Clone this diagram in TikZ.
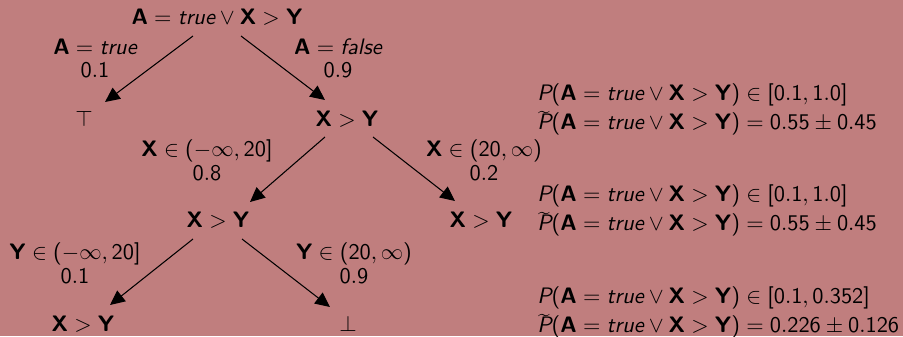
\RequirePackage{fix-cm}
\documentclass[tikz,border=0pt]{standalone}
\usetikzlibrary{arrows.meta,calc}
\DeclareSymbolFont{operators}{OT1}{cmss}{m}{n}
\SetSymbolFont{operators}{bold}{OT1}{cmss}{bx}{n}
\newcommand{\bv}[1]{\mbox{\sffamily\bfseries #1}}
\newcommand{\iv}[1]{\mbox{\sffamily\itshape #1}}
\newcommand{\tvP}{\iv{P}}
\newcommand{\tildeP}{\smash{\rlap{\raisebox{-1.8pt}{$\widetilde{\phantom{\tvP}}$}}\tvP}}
\newcommand{\phrase}{\bv{A} = \iv{true} \vee \bv{X} > \bv{Y}}
\definecolor{bg}{RGB}{192,126,126}
\begin{document}
\begin{tikzpicture}[x=0.476pt,y=-0.476pt,
  every node/.style={font=\sffamily\fontsize{10.65}{11.2}\selectfont, inner sep=0pt},
  lbl/.style={align=center},
  info/.style={align=left, anchor=west},
  arr/.style={line width=0.5pt, -{Triangle[length=7pt,width=6.5pt]}}]
\fill[bg] (0,0) rectangle (903,336);
\useasboundingbox (0,0) rectangle (903,336);
% tree nodes
\node (root) at (217,17) {$\phrase$};
\node (top) at (84,119) {$\top$};
\node (xy1) at (347,119) {$\bv{X} > \bv{Y}$};
\node (xy2) at (218,220) {$\bv{X} > \bv{Y}$};
\node (xy3) at (481,220) {$\bv{X} > \bv{Y}$};
\node (xy4) at (83,324) {$\bv{X} > \bv{Y}$};
\node (bot) at (348,324) {$\bot$};
% edge labels
\node[lbl] (l1) at (95,58) {$\bv{A} = \iv{true}$\\ $0.1$};
\node[lbl] (l2) at (338,58) {$\bv{A} = \iv{false}$\\ $0.9$};
\node[lbl] (l3) at (207,160) {$\bv{X} \in (-\infty, 20]$\\ $0.8$};
\node[lbl] (l4) at (484,160) {$\bv{X} \in (20, \infty)$\\ $0.2$};
\node[lbl] (l5) at (75,263) {$\bv{Y} \in (-\infty, 20]$\\ $0.1$};
\node[lbl] (l6) at (354,263) {$\bv{Y} \in (20, \infty)$\\ $0.9$};
% probability texts
\node[info] (p1) at (537,109) {$\tvP(\phrase) \in [0.1, 1.0]$\\[2.6pt] $\tildeP(\phrase) = 0.55 \pm 0.45$};
\node[info] (p2) at (537,210) {$\tvP(\phrase) \in [0.1, 1.0]$\\[2.6pt] $\tildeP(\phrase) = 0.55 \pm 0.45$};
\node[info] (p3) at (537,312) {$\tvP(\phrase) \in [0.1, 0.352]$\\[2.6pt] $\tildeP(\phrase) = 0.226 \pm 0.126$};
% edges
\draw[arr] ($(root)+(-24,19)$) -- ($(top)+(21,-17)$);
\draw[arr] ($(root)+(24,19)$) -- ($(xy1)+(-22,-19)$);
\draw[arr] ($(xy1)+(-22,18)$) -- ($(xy2)+(32,-18)$);
\draw[arr] ($(xy1)+(26,18)$) -- ($(xy3)+(-26,-19)$);
\draw[arr] ($(xy2)+(-25,19)$) -- ($(xy4)+(27,-19)$);
\draw[arr] ($(xy2)+(24,19)$) -- ($(bot)+(-18,-17)$);
\end{tikzpicture}
\end{document}
